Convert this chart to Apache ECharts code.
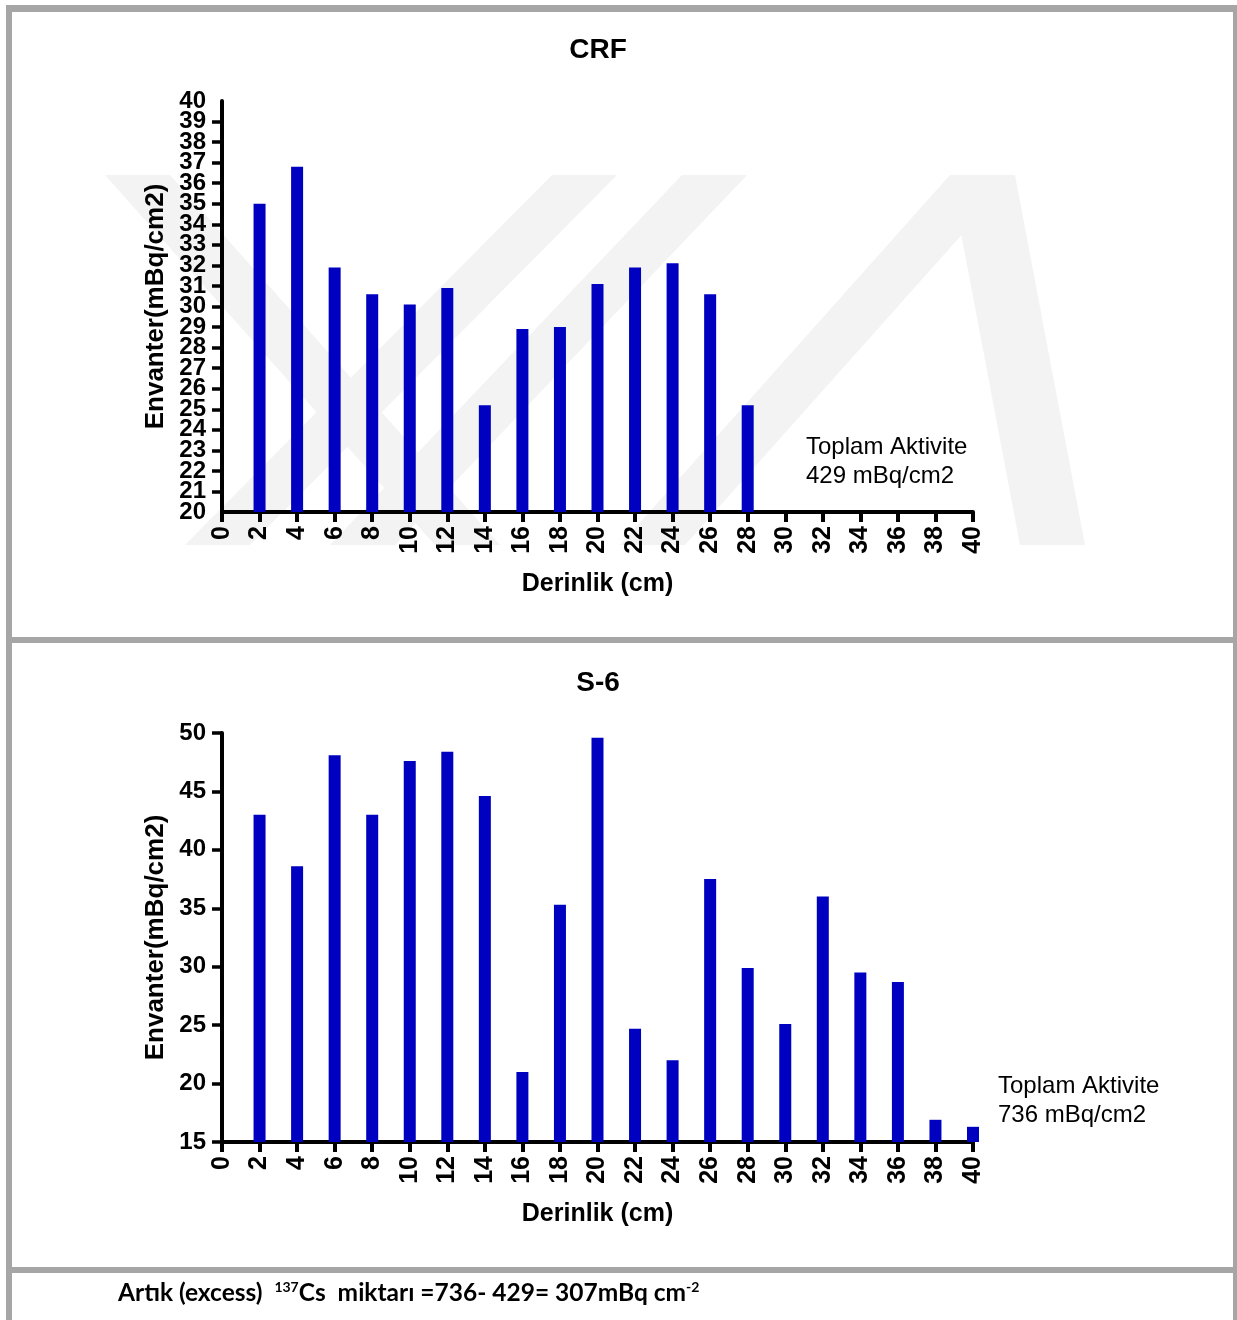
<!DOCTYPE html>
<html>
<head>
<meta charset="utf-8">
<script src="https://cdn.jsdelivr.net/npm/echarts@6/dist/echarts.min.js"></script>
<style>
  html, body { margin: 0; padding: 0; background: #fff; }
  #chart { width: 1237px; height: 1320px; }
</style>
</head>
<body>
<div id="chart"></div>
<script>
// derinlik (cm) ve envanter degerleri
var crfDepth = [2, 4, 6, 8, 10, 12, 14, 16, 18, 20, 22, 24, 26, 28];
var crfValues = [35.0, 36.8, 31.9, 30.6, 30.1, 30.9, 25.2, 28.9, 29.0, 31.1, 31.9, 32.1, 30.6, 25.2];
var s6Depth = [2, 4, 6, 8, 10, 12, 14, 16, 18, 20, 22, 24, 26, 28, 30, 32, 34, 36, 38, 40];
var s6Values = [43.0, 38.6, 48.1, 43.0, 47.6, 48.4, 44.6, 21.0, 35.3, 49.6, 24.7, 22.0, 37.5, 29.9, 25.1, 36.0, 29.5, 28.7, 16.9, 16.3];
var crfTotal = 'Toplam Aktivite\n429 mBq/cm2';
var s6Total = 'Toplam Aktivite\n736 mBq/cm2';

var font = 'Liberation Sans, Arial, sans-serif';
var barColor = '#0000c0';
var frameColor = '#a6a6a6';

function pairs(xs, ys) {
  var out = [];
  for (var i = 0; i < xs.length; i++) out.push([xs[i], ys[i]]);
  return out;
}

var yLabelStyle = { margin: 16, fontFamily: font, fontWeight: 'bold', fontSize: 24, color: '#000' };

function xAxisFor(gridIndex) {
  return {
    type: 'value', gridIndex: gridIndex, min: 0, max: 40, interval: 2,
    name: 'Derinlik (cm)', nameLocation: 'middle', nameGap: 60,
    nameTextStyle: { fontFamily: font, fontWeight: 'bold', fontSize: 25, color: '#000' },
    axisLine: { onZero: false, lineStyle: { color: '#000', width: 4 } },
    axisTick: { length: 10, lineStyle: { color: '#000', width: 4 } },
    axisLabel: { rotate: 90, margin: 14, showMinLabel: true, showMaxLabel: true,
      fontFamily: font, fontWeight: 'bold', fontSize: 25, color: '#000' },
    splitLine: { show: false }
  };
}

function yAxisFor(gridIndex, min, max, interval, edgeLabels) {
  return {
    type: 'value', gridIndex: gridIndex, min: min, max: max, interval: interval,
    name: 'Envanter(mBq/cm2)', nameLocation: 'middle', nameGap: 50,
    nameTextStyle: { fontFamily: font, fontWeight: 'bold', fontSize: 26, color: '#000' },
    axisLine: { show: true, onZero: false, lineStyle: { color: '#000', width: 4 } },
    axisTick: { show: true, length: 10, lineStyle: { color: '#000', width: 3.5 } },
    axisLabel: Object.assign({ showMinLabel: edgeLabels, showMaxLabel: edgeLabels }, yLabelStyle),
    splitLine: { show: false }
  };
}

// gizli eksenler: cubuklar icin biraz daha genis kirpma alani
function hiddenX(gridIndex, max) {
  return { type: 'value', gridIndex: gridIndex, min: 0, max: max, show: false, splitLine: { show: false } };
}
function hiddenY(gridIndex, min, max) {
  return { type: 'value', gridIndex: gridIndex, min: min, max: max, show: false, splitLine: { show: false } };
}

// filigran (soluk gri)
var wm = [
  [[105, 175], [170, 175], [500, 545], [435, 545]],
  [[185, 545], [250, 545], [617, 175], [552, 175]],
  [[330, 545], [395, 545], [747, 175], [682, 175]],
  [[620, 545], [685, 545], [1015, 175], [950, 175]],
  [[950, 175], [1015, 175], [1085, 545], [1020, 545]]
];
var graphics = [];
wm.forEach(function (p) {
  graphics.push({ type: 'polygon', silent: true, z: 0, shape: { points: p }, style: { fill: '#f3f3f3' } });
});

// cerceve
[[6, 5, 6, 1315], [6, 5, 1231, 7], [1233, 5, 4, 1315], [6, 637, 1231, 6], [6, 1267, 1231, 6]].forEach(function (r) {
  graphics.push({ type: 'rect', silent: true, z: 1, shape: { x: r[0], y: r[1], width: r[2], height: r[3] }, style: { fill: frameColor } });
});

graphics.push(
  { type: 'text', x: 598, y: 50, z: 5, style: { text: 'CRF', fontFamily: font, fontWeight: 'bold', fontSize: 28, fill: '#000', textAlign: 'center', textVerticalAlign: 'middle' } },
  { type: 'text', x: 598, y: 683, z: 5, style: { text: 'S-6', fontFamily: font, fontWeight: 'bold', fontSize: 28, fill: '#000', textAlign: 'center', textVerticalAlign: 'middle' } },
  { type: 'text', x: 806, y: 433, z: 5, style: { text: crfTotal, fontFamily: font, fontSize: 24, lineHeight: 29, fill: '#000' } },
  { type: 'text', x: 998, y: 1072, z: 5, style: { text: s6Total, fontFamily: font, fontSize: 24, lineHeight: 29, fill: '#000' } },
  {
    type: 'text', x: 118, y: 1273, z: 5,
    style: {
      text: '{a|Artık (excess)  }{s|137}{a|Cs  miktarı =736- 429= 307mBq cm}{s|-2}',
      rich: {
        a: { fontFamily: 'Lato, sans-serif', fontWeight: 'bold', fontSize: 24.5, fill: '#000', height: 28 },
        s: { fontFamily: 'Lato, sans-serif', fontWeight: 'bold', fontSize: 14, fill: '#000', height: 28, padding: [0, 0, 13, 0] }
      }
    }
  }
);

// ust grafikte 20 ve 40 etiketleri ayri bir eksende
var edgeAxis = {
  type: 'value', gridIndex: 4, min: 20, max: 40, interval: 20,
  axisLine: { show: false }, axisTick: { show: false }, splitLine: { show: false },
  axisLabel: Object.assign({ showMinLabel: true, showMaxLabel: true }, yLabelStyle)
};

var chart = echarts.init(document.getElementById('chart'), null, { renderer: 'canvas' });
chart.setOption({
  animation: false,
  backgroundColor: '#fff',
  grid: [
    { left: 222, top: 101, width: 751, height: 411 },
    { left: 222, top: 733, width: 751, height: 409 },
    { left: 222, top: 101, width: 751 * 41 / 40, height: 411 },
    { left: 222, top: 733, width: 751 * 41 / 40, height: 409 },
    { left: 222, top: 101, width: 751, height: 411 }
  ],
  xAxis: [xAxisFor(0), xAxisFor(1), hiddenX(2, 41), hiddenX(3, 41), hiddenX(4, 40)],
  yAxis: [yAxisFor(0, 20, 40, 1, false), yAxisFor(1, 15, 50, 5, true), hiddenY(2, 20, 40), hiddenY(3, 15, 50), edgeAxis],
  graphic: graphics,
  series: [
    { type: 'bar', xAxisIndex: 2, yAxisIndex: 2, barWidth: 12, clip: true, itemStyle: { color: barColor }, data: pairs(crfDepth, crfValues) },
    { type: 'bar', xAxisIndex: 3, yAxisIndex: 3, barWidth: 12, clip: true, itemStyle: { color: barColor }, data: pairs(s6Depth, s6Values) }
  ]
});
</script>
</body>
</html>
